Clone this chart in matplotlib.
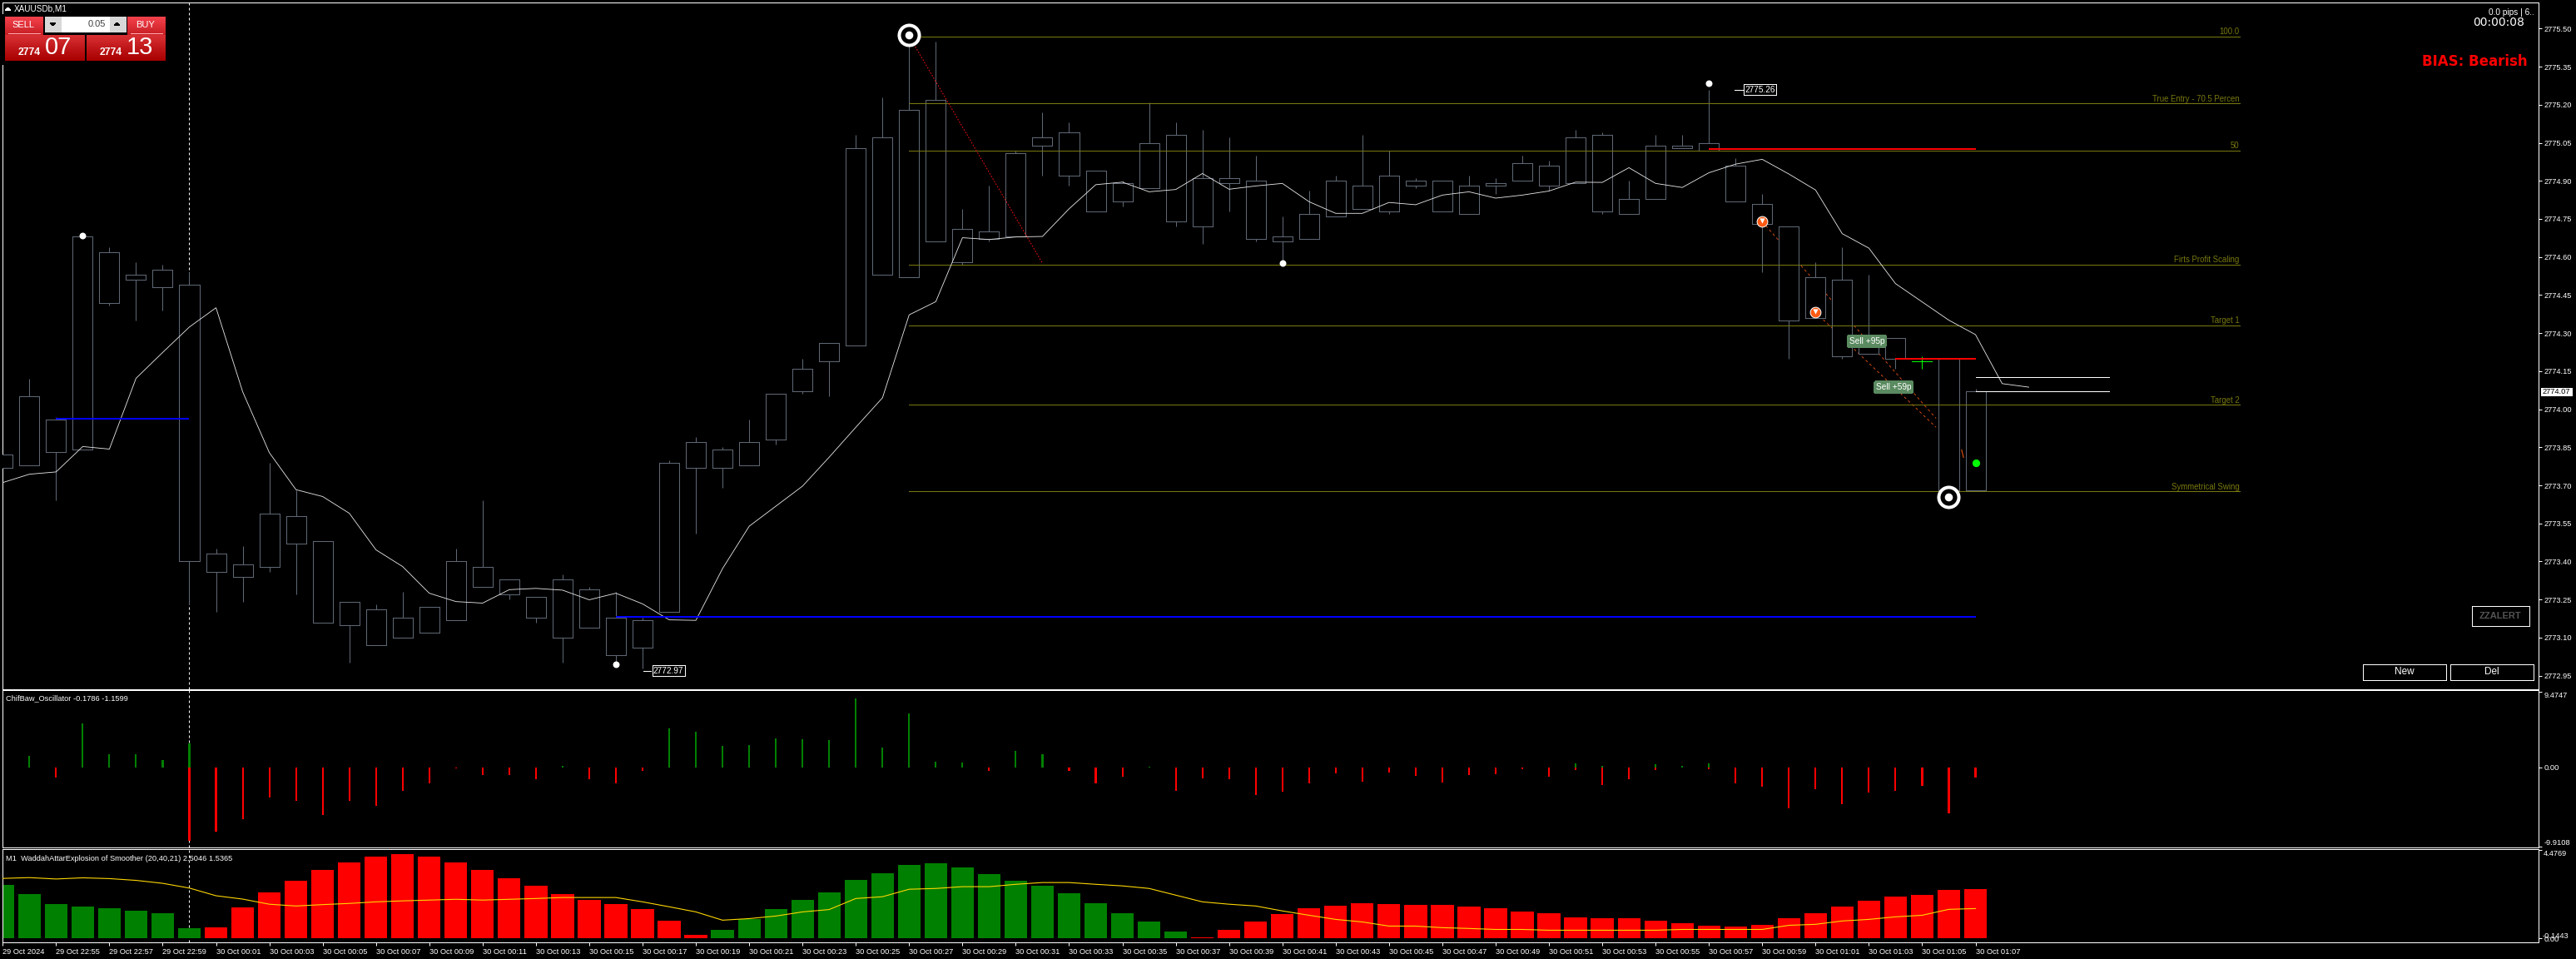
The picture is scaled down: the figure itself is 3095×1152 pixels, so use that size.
import numpy as np
import matplotlib
matplotlib.use("Agg")
import matplotlib.pyplot as plt
from matplotlib.patches import Rectangle, Polygon

W, H = 3095, 1152
plt.rcParams['font.family'] = ['Liberation Sans', 'DejaVu Sans']
plt.rcParams['patch.antialiased'] = False

first_bar = -7  # 22:53 on the chart's bar numbering; 0 is the session start bar
body_top = [2773.82,2774.05,2773.96,2774.68,2774.62,2774.53,2774.55,2774.49,2773.43,2773.39,2773.59,2773.58,2773.48,2773.24,2773.21,2773.18,2773.22,2773.40,2773.38,2773.33,2773.26,2773.33,2773.29,2773.18,2773.17,
            2773.79,2773.87,2773.84,2773.87,2774.06,2774.16,2774.26,2775.03,2775.07,2775.18,2775.22,2774.71,2774.70,2775.01,2775.07,2775.09,2774.94,2774.89,2775.05,2775.08,2774.91,2774.91,2774.90,2774.68,2774.77,
            2774.90,2774.88,2774.92,2774.90,2774.90,2774.88,2774.89,2774.97,2774.96,2775.07,2775.08,2774.83,2775.04,2775.04,2775.05,2774.96,2774.81,2774.72,2774.52,2774.51,2774.26,2774.28,2774.19,2774.20,2774.07]
body_bot = [2773.77,2773.78,2773.83,2773.84,2774.42,2774.51,2774.48,2773.40,2773.36,2773.34,2773.38,2773.47,2773.16,2773.15,2773.07,2773.10,2773.12,2773.17,2773.30,2773.27,2773.18,2773.10,2773.14,2773.03,2773.06,
            2773.20,2773.77,2773.77,2773.78,2773.88,2774.07,2774.19,2774.25,2774.53,2774.52,2774.66,2774.58,2774.67,2774.68,2775.04,2774.92,2774.78,2774.82,2774.87,2774.74,2774.72,2774.89,2774.67,2774.66,2774.67,
            2774.76,2774.79,2774.78,2774.88,2774.78,2774.77,2774.88,2774.90,2774.88,2774.89,2774.78,2774.77,2774.83,2775.03,2775.02,2774.82,2774.73,2774.35,2774.36,2774.21,2774.22,2774.20,2774.19,2773.68,2773.68]
low_high = [2773.84,2774.12,2773.97,2774.69,2774.64,2774.58,2774.57,2774.54,2773.45,2773.46,2773.79,2773.68,2773.48,2773.24,2773.23,2773.28,2773.22,2773.45,2773.64,2773.33,2773.26,2773.35,2773.30,2773.28,2773.18,
            2773.80,2773.89,2773.85,2773.96,2774.06,2774.20,2774.26,2775.08,2775.23,2775.47,2775.45,2774.79,2774.88,2775.02,2775.17,2775.13,2774.94,2774.90,2775.21,2775.13,2775.10,2775.07,2775.00,2774.76,2774.86,
            2774.92,2775.08,2775.02,2774.91,2774.90,2774.92,2774.91,2775.00,2774.98,2775.10,2775.09,2774.90,2775.08,2775.08,2775.26,2774.99,2774.85,2774.72,2774.58,2774.64,2774.53,2774.28,2774.21,2774.20,2774.08]
bar_low = [2773.76,2773.78,2773.64,2773.84,2774.41,2774.35,2774.39,2773.23,2773.20,2773.24,2773.36,2773.27,2773.16,2773.00,2773.07,2773.10,2773.12,2773.17,2773.30,2773.25,2773.16,2773.00,2773.14,2773.00,2772.98,
           2773.20,2773.51,2773.69,2773.78,2773.86,2774.06,2774.05,2774.25,2774.53,2774.52,2774.66,2774.57,2774.66,2774.68,2774.92,2774.88,2774.78,2774.80,2774.87,2774.72,2774.65,2774.78,2774.66,2774.58,2774.67,
           2774.76,2774.79,2774.77,2774.87,2774.78,2774.77,2774.85,2774.90,2774.86,2774.89,2774.77,2774.77,2774.83,2775.03,2775.02,2774.82,2774.54,2774.20,2774.36,2774.20,2774.22,2774.16,2774.16,2773.65,2773.68]
ma_line = [2773.711,2773.744,2773.753,2773.853,2773.843,2774.122,2774.224,2774.324,2774.400,2774.069,2773.829,2773.683,2773.656,2773.590,2773.446,2773.380,2773.275,2773.242,2773.236,2773.289,2773.294,2773.287,2773.249,2773.275,2773.233,
           2773.170,2773.168,2773.372,2773.539,2773.618,2773.697,2773.811,2773.929,2774.045,2774.372,2774.424,2774.676,2774.669,2774.679,2774.681,2774.790,2774.885,2774.895,2774.857,2774.866,2774.929,2774.867,2774.880,2774.890,2774.818,
           2774.772,2774.772,2774.815,2774.806,2774.844,2774.857,2774.832,2774.844,2774.860,2774.895,2774.894,2774.952,2774.890,2774.874,2774.932,2774.966,2774.985,2774.927,2774.864,2774.692,2774.635,2774.495,2774.423,2774.351,2774.294,2774.101,2774.087]

osc_up = [0,1.45,0,5.48,1.66,1.66,0.93,3.02,0,0,0,0,0,0,0,0,0,0,0,0,0,0.21,0,0,0,
          4.86,4.45,2.69,2.79,3.62,3.52,3.41,8.59,2.48,6.72,0.72,0.62,0,2.07,1.66,0,0,0,0.10,0,0,0,0,0,0,
          0,0,0,0,0,0,0,0,0,0.52,0.21,0,0.41,0.21,0.52,0,0,0,0,0,0,0,0,0,0]
osc_dn = [-0.62,0,-1.24,0,0,0,0,-9.10,-7.97,-6.41,-3.72,-4.14,-5.90,-4.14,-4.76,-2.90,-1.97,-0.10,-0.93,-0.93,-1.45,0,-1.45,-1.97,-0.41,
          0,0,0,0,0,0,0,0,0,0,0,0,-0.41,0,0,-0.41,-1.97,-1.14,0,-2.90,-1.34,-1.45,-3.41,-3.00,-1.97,
          -0.72,-1.76,-0.62,-1.03,-1.86,-0.93,-0.83,-0.21,-1.14,-0.31,-2.17,-1.45,-0.31,0,-0.21,-1.97,-2.38,-5.07,-2.69,-4.55,-3.10,-2.90,-2.28,-5.69,-1.24]

wae_hist = [2.72,2.25,1.74,1.61,1.53,1.40,1.27,0.51,0.55,1.57,2.33,2.93,3.48,3.86,4.16,4.29,4.16,3.86,3.48,3.06,2.67,2.25,1.95,1.74,1.49,0.89,0.17,
            0.42,0.98,1.49,1.95,2.33,2.97,3.31,3.73,3.82,3.61,3.27,2.93,2.67,2.29,1.78,1.27,0.85,0.34,
            0.04,0.42,0.85,1.23,1.53,1.65,1.78,1.74,1.70,1.70,1.61,1.53,1.36,1.27,1.06,1.02,1.02,0.89,0.76,0.64,0.59,0.68,1.02,1.27,1.61,1.91,2.12,2.21,2.46,2.50]
wae_colors = ['#008000'] * 8 + ['#ff0000'] * 19 + ['#008000'] * 18 + ['#ff0000'] * 30
wae_signal = [3.04,3.08,3.01,3.07,3.03,2.94,2.79,2.55,2.16,1.99,1.73,1.64,1.71,1.77,1.85,1.90,1.94,1.98,1.94,1.98,2.02,2.07,2.07,2.07,1.85,1.60,1.34,0.92,1.00,1.13,1.34,1.46,2.02,2.11,2.49,
              2.53,2.62,2.62,2.74,2.83,2.83,2.74,2.66,2.53,2.19,1.85,1.73,1.64,1.39,1.17,0.96,0.83,0.62,0.62,0.54,0.50,0.45,0.45,0.41,0.41,0.41,0.41,0.41,0.45,0.45,0.45,0.45,0.66,0.71,0.88,0.96,1.09,1.17,1.47,1.51]

fib_levels = [2775.47, 2775.205, 2775.02, 2774.57, 2774.33, 2774.017, 2773.676]
fib_labels = ['100.0', 'True Entry - 70.5 Percen', '50', 'Firts Profit Scaling', 'Target 1', 'Target 2', 'Symmetrical Swing']
price_ticks = [2775.50,2775.35,2775.20,2775.05,2774.90,2774.75,2774.60,2774.45,2774.30,2774.15,2774.00,2773.85,2773.70,2773.55,2773.40,2773.25,2773.10,2772.95]
price_labels = ['%.2f' % p for p in price_ticks]
time_tick_bars = list(range(-7, 68, 2))
time_labels = ['29 Oct 2024','29 Oct 22:55','29 Oct 22:57','29 Oct 22:59','30 Oct 00:01','30 Oct 00:03','30 Oct 00:05','30 Oct 00:07','30 Oct 00:09','30 Oct 00:11',
               '30 Oct 00:13','30 Oct 00:15','30 Oct 00:17','30 Oct 00:19','30 Oct 00:21','30 Oct 00:23','30 Oct 00:25','30 Oct 00:27','30 Oct 00:29','30 Oct 00:31',
               '30 Oct 00:33','30 Oct 00:35','30 Oct 00:37','30 Oct 00:39','30 Oct 00:41','30 Oct 00:43','30 Oct 00:45','30 Oct 00:47','30 Oct 00:49','30 Oct 00:51',
               '30 Oct 00:53','30 Oct 00:55','30 Oct 00:57','30 Oct 00:59','30 Oct 01:01','30 Oct 01:03','30 Oct 01:05','30 Oct 01:07']

bars = np.arange(first_bar, first_bar + len(body_top))
ma_x = np.arange(first_bar, first_bar + len(ma_line))
CANDLE = '#5f6875'
OLIVE = '#787810'
px = 0.72  # points per pixel at dpi 100

fig = plt.figure(figsize=(W / 100, H / 100), dpi=100, facecolor='black')

def rect(l, t, r, b):
    return [l / W, 1 - b / H, (r - l) / W, (b - t) / H]

XLIM = (-7.009, 88.12)
ax = fig.add_axes(rect(3, 3, 3050, 827.5), facecolor='black')
ax1 = fig.add_axes(rect(3, 829.3, 3050, 1018), facecolor='black')
ax2 = fig.add_axes(rect(3, 1020, 3050, 1131.5), facecolor='black')
for a in (ax, ax1, ax2):
    a.set_xlim(*XLIM)
    for s in a.spines.values():
        s.set_color('white')
        s.set_linewidth(1.0 * px)
    a.yaxis.tick_right()
    a.tick_params(axis='y', colors='white', length=3, width=px, pad=1.5, labelsize=6.7)
    a.axvline(0, color='white', lw=px, ls=(0, (3, 3)), zorder=0.5)
    a.set_xticks([])

# main chart
ax.set_ylim(2772.898, 2775.603)
ax.set_yticks(price_ticks)
ax.set_yticklabels(price_labels)

colors = [CANDLE] * len(bars)
colors[list(bars).index(65)] = '#00ff00'
ax.vlines(bars, bar_low, low_high, colors=colors, lw=px, zorder=2)
ax.bar(bars, np.array(body_top) - np.array(body_bot), bottom=body_bot, width=0.75,
       facecolor='black', edgecolor=colors, linewidth=px, zorder=3)

# trade lines sit under the candle bodies
trade_x = [[59, 65.52], [61, 65.52]]
trade_y = [[2774.739, 2773.964], [2774.382, 2773.929]]
for tx, ty in zip(trade_x, trade_y):
    ax.plot(tx, ty, color='#ff5a14', lw=0.8 * px, ls=(0, (4, 4)), zorder=2.5)
ax.plot([66.48, 66.55], [2773.84, 2773.81], color='#ff5a14', lw=px, zorder=2.5)

for lvl, lab in zip(fib_levels, fib_labels):
    ax.plot([27, 76.9], [lvl, lvl], color=OLIVE, lw=px, zorder=3.5)
    ax.annotate(lab, (76.9, lvl), xytext=(0, 0.5), textcoords='offset points', ha='right', va='bottom',
                color=OLIVE, fontsize=6.9, zorder=3.5)

ax.plot([27, 32], [2775.47, 2774.576], color='#ff1010', lw=0.9 * px, ls=(0, (2, 2)), zorder=3.6)
ax.plot(ma_x, ma_line, color='#e8e8e8', lw=0.85 * px, zorder=4)

ax.plot([-5, 0], [2773.962, 2773.962], color='#0000ff', lw=2 * px, zorder=4.5, solid_capstyle='butt')
ax.plot([16, 67], [2773.182, 2773.182], color='#0000ff', lw=2 * px, zorder=4.5, solid_capstyle='butt')
ax.plot([57, 67], [2775.024, 2775.024], color='#ff0000', lw=2 * px, zorder=4.5, solid_capstyle='butt')
ax.plot([64, 67], [2774.20, 2774.20], color='#ff0000', lw=2 * px, zorder=4.5, solid_capstyle='butt')
ax.plot([67, 72], [2774.127, 2774.127], color='white', lw=px, zorder=4.5)
ax.plot([67, 72], [2774.07, 2774.07], color='white', lw=px, zorder=4.5)

ax.scatter([-4, 16, 41, 57], [2774.685, 2772.996, 2774.576, 2775.286], s=33, color='white', linewidths=0, zorder=6)
ax.scatter([67], [2773.79], s=44, color='#00ff00', linewidths=0, zorder=6)
ax.scatter([27, 66], [2775.476, 2773.655], s=300, facecolor='black', edgecolor='white', linewidths=4 * px, zorder=6)
ax.scatter([27, 66], [2775.476, 2773.655], s=48, color='white', linewidths=0, zorder=6.1)
ax.scatter([59, 61], [2774.739, 2774.382], s=85, color='#ff5a14', edgecolor='white', linewidths=px, zorder=6)
ax.scatter([59, 61], [2774.743, 2774.386], s=20, color='white', marker='v', linewidths=0, zorder=6.1)

for xc, yc, lab in [(62.92, 2774.268, 'Sell +95p'), (63.93, 2774.087, 'Sell +59p')]:
    ax.text(xc, yc, lab, color='white', fontsize=7.3, ha='center', va='center', zorder=7,
            bbox=dict(boxstyle='round,pad=0.22', fc='#5a8a60', ec='none'))

for xc, yc, lab, x0, x1 in [(58.92, 2775.26, '2775.26', 57.97, 58.27), (17.97, 2772.97, '2772.97', 17.03, 17.31)]:
    ax.plot([x0, x1], [yc, yc], color='white', lw=px, zorder=6)
    ax.text(xc, yc, lab, color='white', fontsize=7.3, ha='center', va='center', zorder=7,
            bbox=dict(boxstyle='square,pad=0.12', fc='black', ec='white', lw=px))

# oscillator
ax1.set_ylim(-9.93, 9.586)
ax1.set_yticks([9.4, 0, -9.85])
ax1.set_yticklabels(['9.4747', '0.00', '-9.9108'])
ax1.get_yticklabels()[0].set_va('top')
ax1.get_yticklabels()[2].set_va('bottom')
x_osc = np.arange(first_bar, first_bar + len(osc_up))
ax1.bar(x_osc, osc_up, width=0.065, color='#008000', zorder=2, linewidth=0)
ax1.bar(x_osc, osc_dn, width=0.065, color='#ff0000', zorder=2, linewidth=0)
ax1.text(0.0012, 0.948, 'ChifBaw_Oscillator -0.1786 -1.1599', transform=ax1.transAxes, color='white', fontsize=6.7, va='center')

# Waddah Attar
ax2.set_ylim(-0.184, 4.526)
ax2.set_yticks([4.49, 0])
ax2.set_yticklabels(['4.4769', '0.00'])
ax2.get_yticklabels()[0].set_va('top')
ax2.annotate('-0.1443', (1.0, 0.0), xycoords=('axes fraction', 'data'), xytext=(3.0, 2), textcoords='offset points',
             color='white', fontsize=6.7, va='center', annotation_clip=False)
x_wae = np.arange(first_bar, first_bar + len(wae_hist))
ax2.bar(x_wae, wae_hist, width=0.85, color=wae_colors, linewidth=0, zorder=2)
ax2.plot(np.arange(first_bar, first_bar + len(wae_signal)), wae_signal, color='#ffd700', lw=1.1 * px, zorder=3)
ax2.text(0.0012, 0.9, 'M1  WaddahAttarExplosion of Smoother (20,40,21) 2.5046 1.5365', transform=ax2.transAxes,
         color='white', fontsize=6.7, va='center')
ax2.set_xticks(time_tick_bars)
ax2.set_xticklabels(time_labels, ha='left')
ax2.tick_params(axis='x', colors='white', length=3, width=px, pad=2.5, labelsize=6.7)

# screen furniture, placed in screen pixels on a transparent layer
ov = fig.add_axes([0, 0, 1, 1], zorder=20)
ov.patch.set_alpha(0)
ov.axis('off')

def grad(x0, y0, x1, y1, top, bot):
    c = np.linspace(matplotlib.colors.to_rgb(top), matplotlib.colors.to_rgb(bot), 32)[:, None, :]
    ov.imshow(c, extent=(x0, x1, y1, y0), aspect='auto', zorder=2)

ov.add_patch(Rectangle((3, 17), 197, 61, fc='black', ec='none', zorder=1))
grad(6, 20, 52, 42, '#f4424c', '#c81e24')
grad(153, 20, 199, 42, '#f4424c', '#c81e24')
grad(6, 42, 102, 73, '#d83034', '#a80000')
grad(104, 42, 199, 73, '#d83034', '#a80000')
ov.plot([10, 48], [40, 40], color='#ffb0b0', lw=px, zorder=3)
ov.plot([157, 195], [40, 40], color='#ffb0b0', lw=px, zorder=3)
ov.add_patch(Rectangle((54, 20), 20, 19, fc='#d8d8d8', ec='none', zorder=3))
ov.add_patch(Rectangle((74, 20), 58, 19, fc='white', ec='none', zorder=3))
ov.add_patch(Rectangle((132, 20), 20, 19, fc='#d8d8d8', ec='none', zorder=3))
ov.add_patch(Polygon([[60, 27], [67, 27], [63.5, 31]], fc='black', zorder=4))
ov.add_patch(Polygon([[137, 31], [144, 31], [140.5, 27]], fc='black', zorder=4))
ov.text(127, 29, '0.05', color='#404040', fontsize=8, ha='right', va='center', zorder=4)
ov.text(28, 30, 'SELL', color='white', fontsize=8, ha='center', va='center', zorder=4)
ov.text(175, 30, 'BUY', color='white', fontsize=8, ha='center', va='center', zorder=4)
ov.text(22, 63, '2774', color='white', fontsize=8.8, fontweight='bold', va='center', zorder=4)
ov.text(120, 63, '2774', color='white', fontsize=8.8, fontweight='bold', va='center', zorder=4)
ov.text(54, 57, '07', color='white', fontsize=21, va='center', zorder=4)
ov.text(152, 57, '13', color='white', fontsize=21, va='center', zorder=4)
ov.add_patch(Polygon([[6, 13], [13, 13], [9.5, 9]], fc='white', zorder=4))
ov.text(17, 10.5, 'XAUUSDb,M1', color='white', fontsize=7.2, va='center', zorder=4)

ov.text(3045, 15, '0.0 pips | 6..', color='white', fontsize=7.3, ha='right', va='center', zorder=4)
ov.text(3033, 27, '00:00:08', color='white', fontsize=10, ha='right', va='center', zorder=4, family='DejaVu Sans')
ov.text(3037, 74, 'BIAS: Bearish', color='#ff0000', fontsize=12, fontweight='bold', ha='right', va='center', zorder=4, family='DejaVu Sans')

ov.add_patch(Rectangle((3052.5, 465.5), 38, 10, fc='white', ec='none', zorder=4))
ov.text(3071.5, 470.5, '2774.07', color='black', fontsize=6.7, ha='center', va='center', zorder=5)

ov.add_patch(Rectangle((2969.5, 727.5), 69, 24.5, fc='black', ec='white', lw=px, zorder=4))
ov.text(3004, 740, 'ZZALERT', color='#555555', fontsize=8, fontweight='bold', ha='center', va='center', zorder=5)
ov.add_patch(Rectangle((2839, 797.5), 99.5, 19.5, fc='black', ec='white', lw=px, zorder=4))
ov.text(2888.5, 807.5, 'New', color='white', fontsize=8.5, ha='center', va='center', zorder=5)
ov.add_patch(Rectangle((2944, 797.5), 99.5, 19.5, fc='black', ec='white', lw=px, zorder=4))
ov.text(2993.5, 807.5, 'Del', color='white', fontsize=8.5, ha='center', va='center', zorder=5)
ov.set_xlim(0, W)
ov.set_ylim(H, 0)

fig.savefig('out.png', dpi=100, facecolor='black')
